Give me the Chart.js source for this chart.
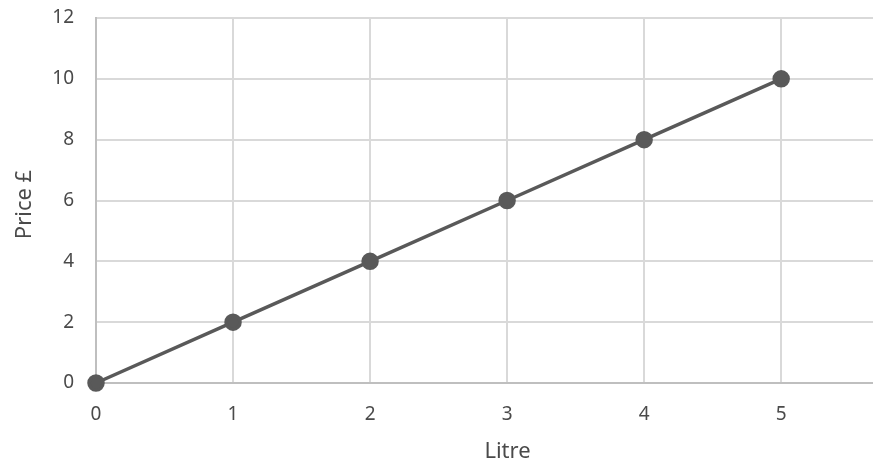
<!DOCTYPE html>
<html>
<head>
<meta charset="utf-8">
<script src="https://cdn.jsdelivr.net/npm/chart.js@4/dist/chart.umd.min.js"></script>
<style>
  html, body { margin: 0; padding: 0; background: #fff; }
  #wrap { width: 873px; height: 468px; }
</style>
</head>
<body>
<div id="wrap"><canvas id="myChart" width="873" height="468"></canvas></div>
<script>
let litres = [0, 1, 2, 3, 4, 5];
let prices = [0, 2, 4, 6, 8, 10];
let xTitle = "Litre";
let yTitle = "Price £";

let textColor = "#4a4a4a";
let fontFamily = "'Noto Sans', 'Open Sans', sans-serif";

// axis titles drawn by hand so the x title can sit a little right of centre
let axisTitles = {
  id: "axisTitles",
  afterDraw(chart) {
    let { ctx, chartArea } = chart;
    ctx.save();
    ctx.fillStyle = textColor;
    ctx.font = `22px ${fontFamily}`;
    ctx.textAlign = "center";
    ctx.textBaseline = "middle";
    ctx.fillText(xTitle, (chartArea.left + chartArea.right) / 2 + 23, 452);
    ctx.translate(25, (chartArea.top + chartArea.bottom) / 2 + 4);
    ctx.rotate(-Math.PI / 2);
    ctx.fillText(yTitle, 0, 0);
    ctx.restore();
  },
};

function getChart(xValues, yValues) {
  var ctx = document.getElementById("myChart").getContext("2d");
  var chart = new Chart(ctx, {
    type: "scatter",
    data: {
      datasets: [
        {
          data: xValues.map((x, i) => ({ x: x, y: yValues[i] })),
          showLine: true,
          clip: false,
          borderColor: "#595959",
          backgroundColor: "#595959",
          borderWidth: 3.5,
          pointRadius: 7,
          pointHoverRadius: 7,
        },
      ],
    },
    options: {
      responsive: false,
      animation: false,
      layout: { autoPadding: false, padding: { top: 18, right: 0, left: 0, bottom: 0 } },
      plugins: { legend: { display: false }, tooltip: { enabled: false } },
      scales: {
        x: {
          type: "linear",
          min: 0,
          max: 5.67,
          ticks: {
            stepSize: 1,
            includeBounds: false,
            color: textColor,
            font: { family: fontFamily, size: 19 },
            padding: 20,
          },
          grid: { color: "#d9d9d9", lineWidth: 2, drawTicks: false },
          border: { color: "#bfbfbf", width: 2 },
          afterFit: (scale) => {
            scale.height = 85;
            scale.paddingRight = 0;
          },
        },
        y: {
          min: 0,
          max: 12,
          ticks: {
            stepSize: 2,
            color: textColor,
            font: { family: fontFamily, size: 19 },
            padding: 22,
          },
          grid: { color: "#d9d9d9", lineWidth: 2, drawTicks: false },
          border: { color: "#bfbfbf", width: 2 },
          afterFit: (scale) => {
            scale.width = 96;
            scale.paddingTop = 0;
          },
        },
      },
    },
    plugins: [axisTitles],
  });
}

getChart(litres, prices);
</script>
</body>
</html>
